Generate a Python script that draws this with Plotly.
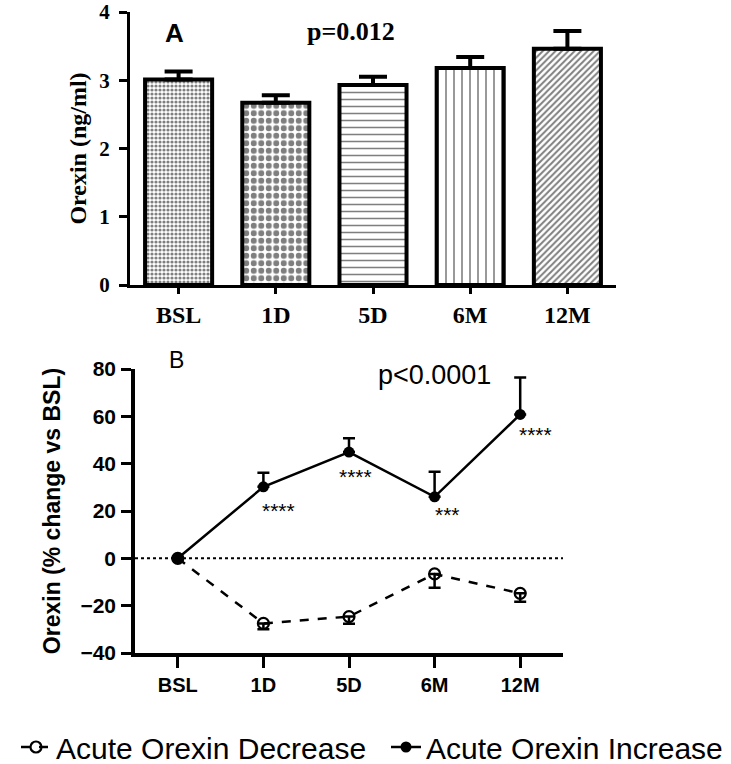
import plotly.graph_objects as go

# ---------------- data ----------------
categories = ["BSL", "1D", "5D", "6M", "12M"]

# Panel A: orexin concentration (ng/ml), mean and upper SEM
orexin_mean = [3.01, 2.67, 2.93, 3.18, 3.46]
orexin_sem = [0.12, 0.11, 0.12, 0.16, 0.26]
bar_patterns = [".", ".", "-", "|", "/"]

# Panel B: % change vs BSL
increase_mean = [0, 30.2, 44.9, 26.0, 60.8]
increase_sem = [0, 6.0, 5.8, 10.6, 15.6]
decrease_mean = [0, -27.5, -24.6, -6.6, -14.8]
decrease_sem = [0, 2.5, 3.0, 5.8, 3.5]
sig_labels = ["", "****", "****", "***", "****"]

W, H = 731, 764
def px_x(p):
    return p / W
def px_y(p):
    return 1 - p / H

SERIF = "Liberation Serif"
SANS = "Liberation Sans"

fig = go.Figure()

# ---------------- Panel A ----------------
pat_size = [4, 7.5, 7, 8, 4.5]
pat_sol = [0.5, 0.5, 0.22, 0.2, 0.45]
for i, c in enumerate(categories):
    fig.add_trace(go.Bar(
        x=[c], y=[orexin_mean[i]],
        xaxis="x", yaxis="y",
        width=0.69,
        marker=dict(color="white",
                    line=dict(color="black", width=4),
                    pattern=dict(shape=bar_patterns[i], fgcolor="black",
                                 bgcolor="white", size=pat_size[i],
                                 solidity=pat_sol[i])),
        error_y=dict(type="data", array=[orexin_sem[i]], arrayminus=[0],
                     symmetric=False, color="black", thickness=4, width=14),
        showlegend=False,
    ))

# ---------------- Panel B ----------------
fig.add_trace(go.Scatter(
    x=categories, y=decrease_mean, xaxis="x2", yaxis="y2",
    mode="lines+markers", name="Acute Orexin Decrease",
    line=dict(color="black", width=2.5, dash="dash"),
    marker=dict(symbol="circle-open", size=11, color="black",
                line=dict(color="black", width=2.2)),
    error_y=dict(type="data", array=[0] * 5, arrayminus=decrease_sem,
                 symmetric=False, color="black", thickness=2.5, width=6),
    legend="legend",
))
fig.add_trace(go.Scatter(
    x=categories, y=increase_mean, xaxis="x2", yaxis="y2",
    mode="lines+markers", name="Acute Orexin Increase",
    line=dict(color="black", width=2.5),
    marker=dict(symbol="circle", size=11, color="black"),
    error_y=dict(type="data", array=increase_sem, arrayminus=[0] * 5,
                 symmetric=False, color="black", thickness=2.5, width=6),
    legend="legend2",
))

# significance annotations
sig_dx = [0, 15, 6, 13, 15]
sig_dy = [0, -24, -24, -18, -20]
for i, c in enumerate(categories):
    if sig_labels[i]:
        fig.add_annotation(x=c, y=increase_mean[i], xref="x2", yref="y2",
                           text=sig_labels[i], showarrow=False,
                           xshift=sig_dx[i], yshift=sig_dy[i],
                           font=dict(family=SANS, size=21, color="black"))

# dotted zero line
fig.add_shape(type="line", xref="x2 domain", yref="y2", x0=0, x1=1, y0=0, y1=0,
              line=dict(color="black", width=2, dash="dot"))

axA_x = dict(domain=[px_x(130), px_x(616)], range=[-0.5, 4.5], anchor="y",
             showline=True, linecolor="black", linewidth=3, ticks="outside",
             ticklen=6, tickwidth=3, tickcolor="black", showgrid=False,
             zeroline=False,
             tickfont=dict(family=SERIF, size=24, color="black", weight="bold"))
axA_y = dict(domain=[px_y(285), px_y(12)], range=[0, 4], dtick=1, anchor="x",
             showline=True, linecolor="black", linewidth=3, ticks="outside",
             ticklen=8, tickwidth=3, tickcolor="black", showgrid=False,
             zeroline=False, ticklabelstandoff=5,
             tickfont=dict(family=SERIF, size=21, color="black", weight="bold"),
             title=dict(text="Orexin (ng/ml)", standoff=6,
                        font=dict(family=SERIF, size=24, color="black", weight="bold")))
axB_x = dict(domain=[px_x(135), px_x(563)], range=[-0.5, 4.5], anchor="y2",
             showline=True, linecolor="black", linewidth=3.5, ticks="outside",
             ticklen=11, tickwidth=3, tickcolor="black", showgrid=False,
             zeroline=False,
             tickfont=dict(family=SANS, size=20, color="black", weight="bold"))
axB_y = dict(domain=[px_y(653), px_y(369)], range=[-40, 80], dtick=20, anchor="x2",
             showline=True, linecolor="black", linewidth=3.5, ticks="outside",
             ticklen=10, tickwidth=3, tickcolor="black", showgrid=False,
             zeroline=False, ticklabelstandoff=1,
             tickfont=dict(family=SANS, size=21, color="black", weight="bold"),
             title=dict(text="Orexin (% change vs BSL)", standoff=14,
                        font=dict(family=SANS, size=23, color="black", weight="bold")))

fig.update_layout(
    width=W, height=H,
    margin=dict(l=0, r=0, t=0, b=0, pad=0, autoexpand=False),
    paper_bgcolor="white", plot_bgcolor="white",
    xaxis=axA_x, yaxis=axA_y, xaxis2=axB_x, yaxis2=axB_y,
    bargap=0.3,
    legend=dict(orientation="h", x=px_x(16), y=px_y(747), xanchor="left",
                yanchor="middle", font=dict(family=SANS, size=30, color="black"),
                bgcolor="rgba(0,0,0,0)", itemwidth=30),
    legend2=dict(orientation="h", x=px_x(386), y=px_y(747), xanchor="left",
                 yanchor="middle", font=dict(family=SANS, size=30, color="black"),
                 bgcolor="rgba(0,0,0,0)", itemwidth=30),
)

fig.add_annotation(text="A", x=px_x(163), y=px_y(16), xref="paper", yref="paper",
                   showarrow=False, font=dict(family=SANS, size=26, color="black", weight="bold"))
fig.add_annotation(text="p=0.012", x=px_x(351), y=px_y(15), xref="paper", yref="paper",
                   showarrow=False, font=dict(family=SERIF, size=26, color="black", weight="bold"))
fig.add_annotation(text="B", x=px_x(167), y=px_y(360), xref="paper", yref="paper",
                   showarrow=False, font=dict(family=SANS, size=23, color="black"))
fig.add_annotation(text="p<0.0001", x=px_x(434), y=px_y(375), xref="paper", yref="paper",
                   showarrow=False, font=dict(family=SANS, size=27, color="black"))

# remove the default 8px page margin so the 731x764 figure fills the window
fig.write_html("out.html", config={"displayModeBar": False},
               post_script="document.body.style.margin='0px';")
